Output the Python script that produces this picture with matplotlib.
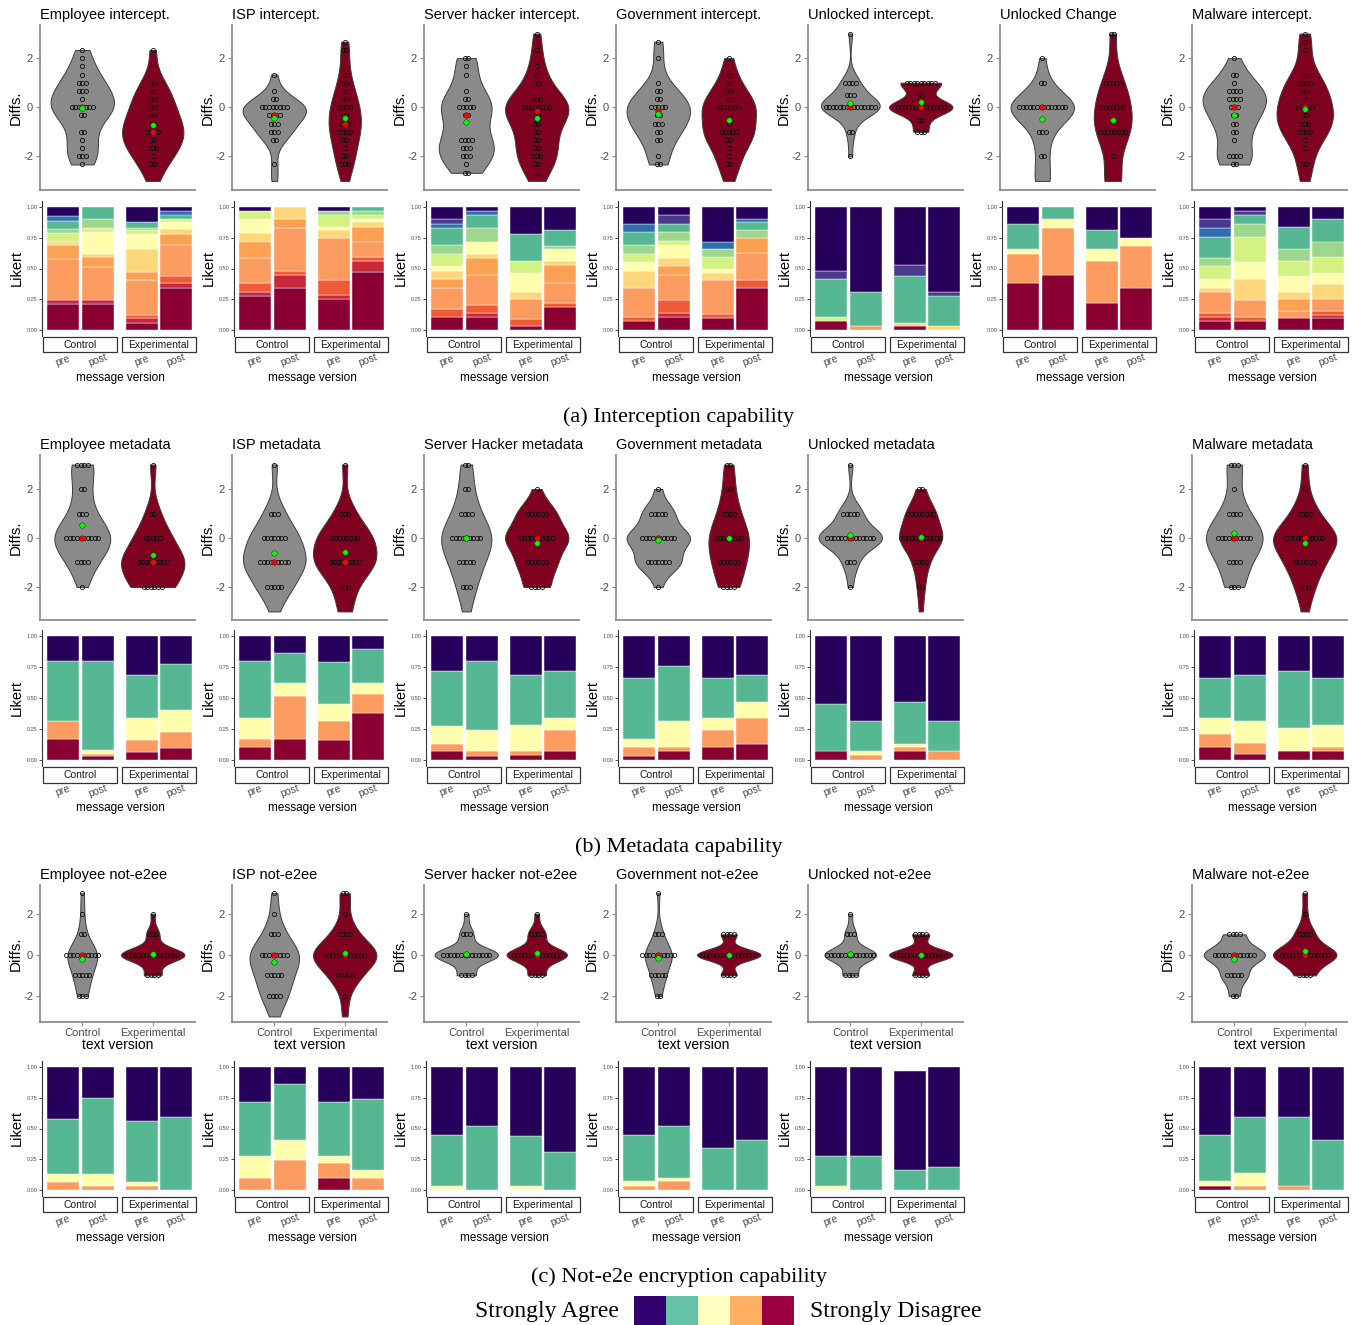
import matplotlib

matplotlib.use("Agg")
import matplotlib.pyplot as plt
import numpy as np
from matplotlib.patches import Rectangle
from matplotlib.transforms import blended_transform_factory

W, H = 1354, 1325
plt.rcParams.update({"font.family": ["Liberation Sans", "DejaVu Sans"],
                     "axes.unicode_minus": False})

# --- data -------------------------------------------------------------------
# 13 Likert levels (1 = strongly agree ... 13 = strongly disagree), averaged items.
LEVEL_COLORS = [
    "#27005c", "#4a3a8e", "#2f6fb0", "#56b892", "#9dd78e", "#d2f281", "#fefeac",
    "#fdd77b", "#fba152", "#fb9b5f", "#f05b37", "#c9283b", "#8a0032",
]
FIVE_LEVELS = [1, 4, 7, 10, 13]
LEGEND_COLORS = ["#33006f", "#66c2a5", "#ffffbf", "#fdae61", "#9e0142"]
VIOLIN_COLORS = ["#8a8a8a", "#800020"]
GROUPS = ["Control", "Experimental"]
VERSIONS = ["pre", "post", "pre", "post"]

INT_TITLES = ["Employee intercept.", "ISP intercept.", "Server hacker intercept.",
              "Government intercept.", "Unlocked intercept.", "Unlocked Change",
              "Malware intercept."]
# diff value -> number of participants
INT_CTRL = [
    {2.33: 1, 2: 1, 1.67: 1, 1.33: 1, 1: 3, 0.67: 3, 0.33: 1, 0: 7, -0.33: 2,
     -1: 2, -1.33: 1, -1.67: 1, -2: 3, -2.33: 1},
    {1.33: 1, 0.67: 1, 0.33: 2, 0: 8, -0.33: 4, -0.67: 3, -1: 3, -1.33: 2,
     -2.33: 1, -3: 1},
    {2: 2, 1.67: 1, 1.33: 1, 0.67: 1, 0.33: 2, 0: 5, -0.33: 2, -1.33: 4,
     -1.67: 3, -2: 3, -2.33: 1, -2.67: 2},
    {2.67: 1, 2: 1, 1: 1, 0.67: 2, 0.33: 2, 0: 5, -0.33: 2, -0.67: 3, -1: 2,
     -1.33: 2, -2: 1, -2.33: 2},
    {3: 1, 1: 4, 0.5: 3, 0: 15, -1: 2, -2: 1},
    {2: 1, 1: 2, 0: 14, -1: 3, -2: 2, -3: 3},
    {2: 1, 1.33: 2, 1: 1, 0.67: 4, 0.33: 4, 0: 3, -0.33: 2, -0.67: 2, -1: 2,
     -1.33: 1, -2: 4, -2.33: 2},
]
INT_EXP = [
    {2.33: 1, 1: 2, 0.67: 1, 0.33: 2, 0: 2, -0.33: 2, -0.67: 2, -1: 4,
     -1.33: 2, -1.67: 3, -2: 1, -2.33: 2, -3: 1},
    {2.67: 1, 2.33: 2, 1.33: 1, 1: 2, 0.67: 1, 0.33: 2, 0: 4, -0.33: 2,
     -0.67: 3, -1: 4, -1.33: 2, -1.67: 1, -2: 2, -2.33: 3, -3: 1},
    {3: 1, 2.33: 1, 1.67: 1, 1.33: 1, 1: 2, 0.33: 3, 0: 8, -0.33: 2, -0.67: 2,
     -1: 2, -1.33: 2, -1.67: 2, -2: 3, -2.33: 2, -2.67: 1, -3: 1},
    {2: 1, 1.33: 1, 1: 1, 0.67: 2, 0.33: 1, 0: 6, -0.33: 1, -0.67: 1, -1: 5,
     -1.33: 2, -1.67: 1, -2: 1, -2.33: 2, -3: 1},
    {1: 9, 0.5: 2, 0: 14, -0.5: 2, -1: 3},
    {3: 2, 1: 5, 0: 7, -1: 8, -2: 1, -3: 5},
    {3: 1, 2.67: 1, 2.33: 1, 1.33: 1, 1: 4, 0.67: 2, 0.33: 1, 0: 5, -0.33: 2,
     -0.67: 3, -1: 4, -1.33: 1, -1.67: 1, -2.33: 2, -3: 1},
]
# share of each level per bar: control pre, control post, experimental pre, post
INT_BARS = [
    [{13: .21, 12: .03, 10: .34, 9: .11, 8: .03, 6: .07, 5: .03, 4: .07, 3: .04, 1: .07},
     {13: .21, 12: .035, 10: .265, 9: .08, 8: .03, 7: .18, 6: .03, 5: .07, 4: .10},
     {13: .06, 12: .04, 11: .025, 10: .285, 9: .06, 8: .19, 7: .12, 6: .03, 5: .02,
      4: .045, 1: .125},
     {13: .345, 12: .035, 11: .055, 10: .255, 9: .09, 8: .04, 7: .055, 6: .03, 4: .035,
      3: .03, 1: .03}],
    [{13: .28, 12: .03, 11: .07, 10: .205, 9: .135, 8: .07, 7: .11, 6: .07, 1: .03},
     {13: .345, 12: .105, 11: .03, 10: .35, 9: .07, 8: .10},
     {13: .25, 12: .035, 11: .125, 10: .34, 8: .06, 7: .03, 6: .10, 5: .03, 1: .03},
     {13: .47, 12: .095, 11: .03, 10: .125, 9: .12, 8: .035, 7: .03, 6: .035, 5: .03,
      4: .03}],
    [{13: .105, 11: .065, 10: .175, 9: .07, 8: .065, 7: .04, 6: .10, 5: .07, 4: .14,
      3: .03, 2: .04, 1: .10},
     {13: .105, 12: .035, 11: .065, 10: .245, 9: .135, 8: .035, 7: .10, 5: .11,
      4: .105, 3: .035, 1: .03},
     {13: .03, 11: .06, 10: .16, 8: .06, 7: .155, 6: .095, 4: .22, 1: .22},
     {13: .19, 11: .03, 10: .16, 9: .15, 8: .03, 7: .095, 5: .03, 4: .125, 1: .19}],
    [{13: .07, 11: .035, 10: .24, 8: .135, 7: .07, 6: .07, 5: .07, 4: .105, 3: .065,
      1: .14},
     {13: .105, 12: .035, 11: .105, 10: .205, 9: .07, 8: .065, 7: .105, 6: .035,
      5: .07, 4: .065, 2: .075, 1: .065},
     {13: .095, 11: .035, 10: .28, 8: .055, 7: .035, 6: .095, 5: .065, 3: .06, 1: .28},
     {13: .345, 11: .065, 10: .22, 9: .12, 5: .06, 4: .065, 3: .03, 1: .095}],
    [{13: .07, 6: .035, 4: .31, 2: .065, 1: .52},
     {10: .035, 4: .27, 1: .695},
     {13: .03, 8: .03, 4: .375, 2: .095, 1: .47},
     {8: .03, 4: .25, 2: .03, 1: .69}],
    [{13: .38, 10: .24, 7: .035, 4: .205, 1: .14},
     {13: .45, 10: .38, 7: .07, 4: .10},
     {13: .22, 10: .34, 7: .095, 4: .155, 1: .19},
     {13: .345, 10: .34, 7: .065, 1: .25}],
    [{13: .07, 12: .035, 11: .03, 10: .17, 8: .04, 7: .07, 6: .105, 5: .065, 4: .175,
      3: .07, 2: .07, 1: .10},
     {13: .07, 11: .035, 10: .14, 8: .17, 7: .14, 6: .205, 5: .10, 4: .075, 2: .035,
      1: .03},
     {13: .095, 10: .06, 9: .095, 8: .06, 7: .125, 6: .13, 5: .09, 4: .185, 1: .16},
     {13: .095, 12: .03, 11: .03, 10: .095, 8: .125, 7: .09, 6: .13, 5: .125, 4: .185,
      1: .095}],
]

META_TITLES = ["Employee metadata", "ISP metadata", "Server Hacker metadata",
               "Government metadata", "Unlocked metadata", "Malware metadata"]
META_CTRL = [
    {3: 4, 2: 2, 1: 3, 0: 10, -1: 4, -2: 1},
    {3: 1, 1: 3, 0: 7, -1: 9, -2: 5, -3: 1},
    {3: 2, 2: 2, 1: 4, 0: 9, -1: 5, -2: 3, -3: 1},
    {2: 1, 1: 5, 0: 10, -1: 7, -2: 1},
    {3: 1, 1: 5, 0: 14, -1: 3, -2: 1},
    {3: 3, 2: 1, 1: 4, 0: 10, -1: 4, -2: 3},
]
META_EXP = [
    {3: 1, 1: 2, 0: 5, -1: 9, -2: 6},
    {3: 1, 1: 3, 0: 8, -1: 9, -2: 3, -3: 2},
    {2: 1, 1: 6, 0: 10, -1: 6, -2: 4},
    {3: 2, 2: 2, 1: 4, 0: 8, -1: 6, -2: 4},
    {2: 2, 1: 8, 0: 12, -1: 4, -2: 2, -3: 1},
    {3: 1, 2: 1, 1: 4, 0: 11, -1: 6, -2: 3, -3: 1},
]
# shares: strongly agree, agree, neutral, disagree, strongly disagree
META_BARS = [
    [[.20, .49, 0, .14, .17], [.20, .72, .03, .02, .03],
     [.31, .35, .18, .095, .065], [.225, .375, .175, .13, .095]],
    [[.20, .46, .17, .07, .10], [.14, .24, .10, .35, .17],
     [.21, .34, .14, .15, .16], [.10, .28, .09, .15, .38]],
    [[.28, .45, .14, .06, .07], [.20, .56, .17, .04, .03],
     [.31, .41, .21, .03, .04], [.28, .38, .10, .17, .07]],
    [[.34, .49, .07, .07, .03], [.24, .45, .21, .03, .07],
     [.34, .32, .10, .14, .10], [.31, .22, .13, .21, .13]],
    [[.55, .38, 0, 0, .07], [.69, .24, .035, .035, 0],
     [.53, .34, .03, .03, .07], [.69, .24, 0, .07, 0]],
    [[.34, .32, .13, .11, .10], [.31, .38, .17, .09, .05],
     [.28, .46, .19, 0, .07], [.34, .38, .18, .03, .07]],
]

E2EE_TITLES = ["Employee not-e2ee", "ISP not-e2ee", "Server hacker not-e2ee",
               "Government not-e2ee", "Unlocked not-e2ee", "Malware not-e2ee"]
E2EE_CTRL = [
    {3: 1, 2: 1, 1: 2, 0: 10, -1: 5, -2: 3},
    {3: 1, 2: 1, 1: 3, 0: 8, -1: 5, -2: 4, -3: 1},
    {2: 1, 1: 3, 0: 14, -1: 4},
    {3: 1, 1: 3, 0: 10, -1: 5, -2: 2},
    {2: 1, 1: 3, 0: 14, -1: 4},
    {1: 4, 0: 12, -1: 5, -2: 2},
]
E2EE_EXP = [
    {2: 1, 1: 3, 0: 15, -1: 4},
    {3: 2, 2: 1, 1: 4, 0: 12, -1: 5, -2: 1, -3: 1},
    {2: 1, 1: 4, 0: 14, -1: 4},
    {1: 4, 0: 16, -1: 4},
    {1: 4, 0: 15, -1: 4},
    {3: 1, 2: 1, 1: 4, 0: 14, -1: 4},
]
E2EE_BARS = [
    [[.42, .45, .065, .065, 0], [.25, .62, .095, .035, 0],
     [.44, .495, .035, .03, 0], [.41, .59, 0, 0, 0]],
    [[.28, .44, .18, .10, 0], [.14, .45, .17, .24, 0],
     [.28, .44, .06, .12, .10], [.26, .58, .06, .10, 0]],
    [[.55, .42, .03, 0, 0], [.48, .52, 0, 0, 0],
     [.56, .41, .03, 0, 0], [.69, .31, 0, 0, 0]],
    [[.55, .38, .04, .03, 0], [.48, .42, .03, .07, 0],
     [.66, .34, 0, 0, 0], [.59, .41, 0, 0, 0]],
    [[.72, .25, .03, 0, 0], [.72, .28, 0, 0, 0],
     [.81, .16, 0, 0, 0], [.81, .19, 0, 0, 0]],
    [[.55, .38, .04, 0, .03], [.41, .45, .11, .03, 0],
     [.41, .56, 0, .03, 0], [.59, .41, 0, 0, 0]],
]

CAPTIONS = ["(a) Interception capability", "(b) Metadata capability",
            "(c) Not-e2e encryption capability"]

# --- layout -----------------------------------------------------------------
COL_STEP = 192
BAR_X = [0, 1, 2.257, 3.229]
BAR_W = 0.914
STRIPS = [(-0.571, 1.543), (1.686, 3.8)]
DOT_STEP = 0.05


def px_axes(fig, x0, y0, x1, y1):
    return fig.add_axes([x0 / W, 1 - y1 / H, (x1 - x0) / W, (y1 - y0) / H])


def expand(counts):
    return np.repeat(np.array(list(counts.keys()), float), list(counts.values()))


def density(x, grid):
    # gaussian kernel, silverman-type bandwidth on the standard deviation
    bw = 0.9 * np.std(x, ddof=1) * len(x) ** -0.2
    z = (grid[:, None] - x[None, :]) / bw
    return np.exp(-0.5 * z**2).sum(1) / (len(x) * bw * np.sqrt(2 * np.pi))


def violin_panel(ax, ctrl, exp, title, ylim, group_ticks):
    data = [expand(ctrl), expand(exp)]
    grids = [np.linspace(d.min(), d.max(), 512) for d in data]
    dens = [density(d, g) for d, g in zip(data, grids)]
    peak = max(dd.max() for dd in dens)
    for pos, d, g, dd, col in zip([1, 2], data, grids, dens, VIOLIN_COLORS):
        half = 0.45 * dd / peak
        ax.fill_betweenx(g, pos - half, pos + half, facecolor=col,
                         edgecolor="#3c3c3c", lw=0.7, zorder=1)
        vals, counts = np.unique(d[d > -2.95], return_counts=True)
        for v, n in zip(vals, counts):
            xs = pos + (np.arange(n) - (n - 1) / 2) * DOT_STEP
            ax.plot(xs, np.full(n, v), "o", ms=3.0, mfc="none", mec="#111111",
                    mew=0.6, zorder=3)
        ax.plot(pos, np.median(d), "o", ms=4, mfc="#ff0000", mec="#333", mew=0.4, zorder=4)
        ax.plot(pos, d.mean(), "o", ms=4, mfc="#00ff00", mec="#333", mew=0.4, zorder=5)
    ax.set_xlim(0.4, 2.6)
    ax.set_ylim(*ylim)
    ax.set_yticks([-2, 0, 2])
    ax.set_ylabel("Diffs.", fontsize=11, labelpad=0)
    ax.set_title(title, loc="left", fontsize=10.5, pad=4)
    for s in ["top", "right"]:
        ax.spines[s].set_visible(False)
    for s in ["left", "bottom"]:
        ax.spines[s].set_color("#8c8c8c")
        ax.spines[s].set_linewidth(1.3)
    ax.tick_params(axis="y", colors="#8c8c8c", labelcolor="#4d4d4d",
                   labelsize=8, length=3, pad=2)
    if group_ticks:
        ax.set_xticks([1, 2], GROUPS)
        ax.tick_params(axis="x", colors="#8c8c8c", labelcolor="#4d4d4d",
                       labelsize=8, length=3, pad=1)
        ax.set_xlabel("text version", fontsize=10, labelpad=0)
    else:
        ax.set_xticks([])


def bar_panel(ax, bars):
    for x, shares in zip(BAR_X, bars):
        bottom = 0.0
        for lvl in range(13, 0, -1):
            h = shares.get(lvl, 0)
            if h <= 0:
                continue
            ax.bar(x, h, BAR_W, bottom=bottom, color=LEVEL_COLORS[lvl - 1],
                   edgecolor="white", lw=0.3)
            bottom += h
    ax.set_xlim(-0.6, 3.857)
    ax.set_ylim(-0.05, 1.05)
    ax.set_yticks([0, .25, .5, .75, 1], ["0.00", "0.25", "0.50", "0.75", "1.00"])
    ax.set_xticks([])
    for s in ["top", "right", "bottom"]:
        ax.spines[s].set_visible(False)
    ax.spines["left"].set_color("#333333")
    ax.spines["left"].set_linewidth(0.8)
    ax.tick_params(axis="y", labelsize=4, labelcolor="#4d4d4d", length=2,
                   width=0.5, pad=1)
    ax.set_ylabel("Likert", fontsize=10.5, labelpad=2)
    tr = blended_transform_factory(ax.transData, ax.transAxes)
    for (x0, x1), name in zip(STRIPS, GROUPS):
        ax.add_patch(Rectangle((x0, -0.122), x1 - x0, 0.115, transform=tr,
                               facecolor="white", edgecolor="#333333", lw=0.9,
                               clip_on=False))
        ax.text((x0 + x1) / 2, -0.064, name, transform=tr, ha="center",
                va="center", fontsize=7.5, color="#1a1a1a")
    for x, v in zip(BAR_X, VERSIONS):
        ax.text(x, -0.18, v, transform=tr, ha="center", va="center",
                rotation=20, fontsize=7.5, color="#4d4d4d")
    ax.text(0.5, -0.31, "message version", transform=ax.transAxes, ha="center",
            va="center", fontsize=8.5)


def to_dicts(rows):
    return [[dict(zip(FIVE_LEVELS, b)) for b in four] for four in rows]


SECTIONS = [
    dict(cols=range(7), titles=INT_TITLES, ctrl=INT_CTRL, exp=INT_EXP, bars=INT_BARS,
         v=(25, 190), ylim=(-3.37, 3.35), b=(201, 336), cap=417, ticks=False),
    dict(cols=[0, 1, 2, 3, 4, 6], titles=META_TITLES, ctrl=META_CTRL, exp=META_EXP,
         bars=to_dicts(META_BARS), v=(455, 620), ylim=(-3.35, 3.39), b=(630, 766),
         cap=847, ticks=False),
    dict(cols=[0, 1, 2, 3, 4, 6], titles=E2EE_TITLES, ctrl=E2EE_CTRL, exp=E2EE_EXP,
         bars=to_dicts(E2EE_BARS), v=(885, 1022), ylim=(-3.27, 3.4), b=(1061, 1196),
         cap=1277, ticks=True),
]

fig = plt.figure(figsize=(W / 100, H / 100), dpi=100)

for sec, caption in zip(SECTIONS, CAPTIONS):
    for i, c in enumerate(sec["cols"]):
        x0 = 40 + COL_STEP * c
        vax = px_axes(fig, x0, sec["v"][0], x0 + 155, sec["v"][1])
        violin_panel(vax, sec["ctrl"][i], sec["exp"][i], sec["titles"][i],
                     sec["ylim"], sec["ticks"])
        bax = px_axes(fig, x0 + 2, sec["b"][0], x0 + 158, sec["b"][1])
        bar_panel(bax, sec["bars"][i])
    fig.text(679 / W, 1 - sec["cap"] / H, caption, ha="center", va="center",
             fontsize=16, family=["Liberation Serif", "DejaVu Serif"])

# legend strip
lax = px_axes(fig, 634, 1296, 794, 1325)
lax.bar(range(5), [1] * 5, 1.0, color=LEGEND_COLORS)
lax.set_xlim(-0.5, 4.5)
lax.set_ylim(0, 1)
lax.axis("off")
fig.text(619 / W, 1 - 1311 / H, "Strongly Agree", ha="right", va="center",
         fontsize=17, family=["Liberation Serif", "DejaVu Serif"])
fig.text(810 / W, 1 - 1311 / H, "Strongly Disagree", ha="left", va="center",
         fontsize=17, family=["Liberation Serif", "DejaVu Serif"])

fig.savefig("out.png", dpi=100)
